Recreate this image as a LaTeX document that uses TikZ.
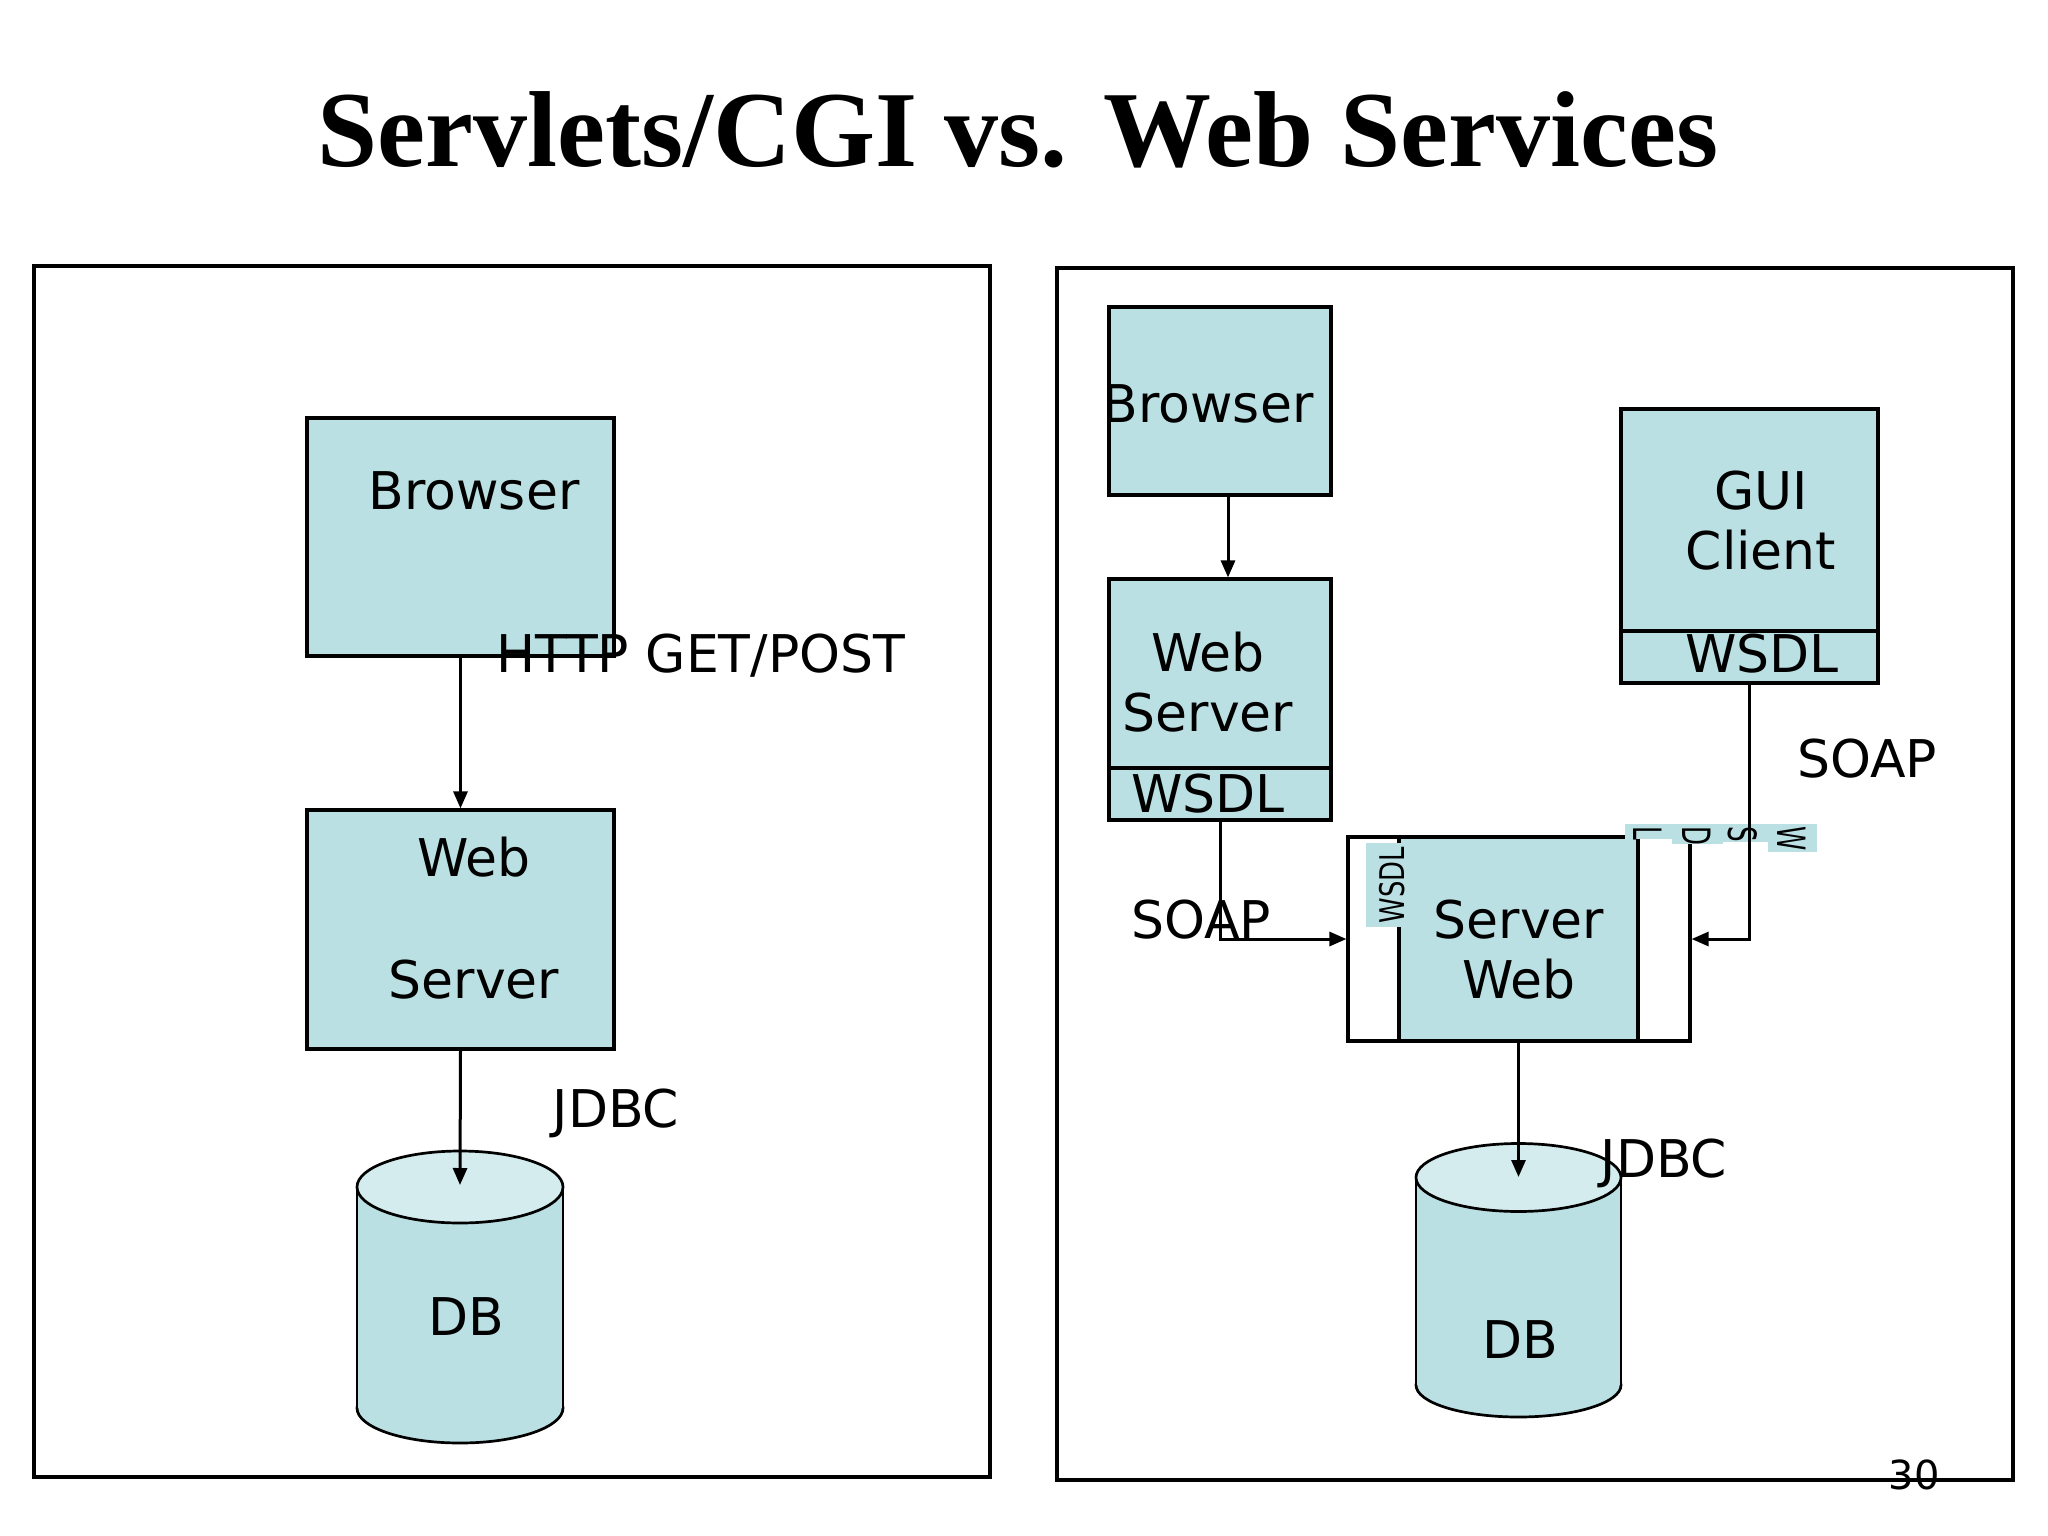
\documentclass[tikz,border=0pt]{standalone}
\usepackage{fontspec}
\newfontfamily\lab{DejaVu Sans}
\newfontfamily\ttl{Liberation Serif}
\usetikzlibrary{arrows.meta}
\definecolor{boxfill}{RGB}{187,224,227}
\definecolor{toplight}{RGB}{212,236,238}
\newcommand\dbcyl[6]{%
  \filldraw[fill=boxfill, line width=2.7pt] (#1,#3) ellipse [x radius=#4, y radius=#6];
  \fill[boxfill] ({#1-#4},#2) rectangle ({#1+#4},#3);
  \draw[line width=2.7pt] ({#1-#4},#2) -- ({#1-#4},#3) ({#1+#4},#2) -- ({#1+#4},#3);
  \filldraw[fill=toplight, line width=2.7pt] (#1,#2) ellipse [x radius=#4, y radius=#5];
}
\begin{document}
\begin{tikzpicture}[x=1pt,y=-1pt,
  box/.style={draw, line width=3.2pt, fill=boxfill, inner sep=0pt},
  panel/.style={draw, line width=3.2pt, inner sep=0pt},
  lbl/.style={font=\lab\fontsize{52}{60}\selectfont, inner sep=0pt, anchor=base},
  arr/.style={line width=3pt, -{Triangle[length=17pt,width=14pt]}},
  vlet/.style={font=\lab\fontsize{39}{39}\selectfont, inner sep=0pt, rotate=-90, anchor=base west}]
\useasboundingbox (0,0) rectangle (2048,1536);

% title
\node[font=\ttl\bfseries\fontsize{108}{120}\selectfont, anchor=base, inner sep=0pt] (title) at (1018,167) {Servlets/CGI vs. Web Services};

% panels
\node[panel, minimum width=956pt, minimum height=1211pt] (leftpanel) at (512,871.5) {};
\node[panel, minimum width=956pt, minimum height=1212pt] (rightpanel) at (1535,874) {};

% ---------- left side ----------
\node[box, minimum width=307pt, minimum height=238pt] (brL) at (460.5,537) {};
\node[lbl] (brLt) at (474,509) {Browser};
\node[box, minimum width=307pt, minimum height=239pt] (wsL) at (460.5,929.5) {};
\node[lbl] (wsLt1) at (474,876) {Web};
\node[lbl] (wsLt2) at (474,998) {Server};
\draw[arr] (brL.south) -- (wsL.north);
\node[lbl, anchor=base west] (http) at (496,672) {HTTP GET/POST};

\dbcyl{460}{1187}{1408}{103}{36}{35}
\coordinate (dbLtop) at (460,1185);
\node[lbl] (dbL) at (466,1335) {DB};
\draw[arr] (wsL.south) -- (dbLtop);
\node[lbl] (jdbcL) at (616,1127) {JDBC};

% ---------- right side ----------
\node[box, minimum width=222pt, minimum height=188pt] (brR) at (1220,401) {};
\node[lbl] (brRt) at (1208,422) {Browser};
\node[box, minimum width=222pt, minimum height=189pt] (wsR) at (1220,673.5) {};
\node[box, minimum width=222pt, minimum height=52pt] (wsRw) at (1220,794) {};
\node[lbl] (wsRt1) at (1208,671) {Web};
\node[lbl] (wsRt2) at (1208,731) {Server};
\node[lbl] (wsRt3) at (1208,812) {WSDL};
\draw[arr] ([xshift=8pt]brR.south) -- ([xshift=8pt]wsR.north);

\node[box, minimum width=257pt, minimum height=222pt] (gui) at (1749.5,520) {};
\node[box, minimum width=257pt, minimum height=52pt] (guiw) at (1749.5,657) {};
\node[lbl] (guit1) at (1761,509) {GUI};
\node[lbl] (guit2) at (1761,569) {Client};
\node[lbl] (guit3) at (1762,672) {WSDL};

% server web group
\node[panel, minimum width=342pt, minimum height=204pt] (swOut) at (1519,939) {};
\node[box, minimum width=239pt, minimum height=204pt] (swIn) at (1518.5,939) {};
\node[lbl] (swt1) at (1519,938) {Server};
\node[lbl] (swt2) at (1519,998) {Web};

% vertical WSDL label
\node[fill=boxfill, minimum width=84pt, minimum height=39pt, inner sep=0pt, rotate=90] (wsdlVbg) at (1385.5,885) {};
\node[font=\lab\fontsize{34}{34}\selectfont, rotate=90, anchor=base, inner sep=0pt] (wsdlV) at (1404,885) {\scalebox{0.76}[1]{WSDL}};

% top letter label
\fill[boxfill] (1625,824) rectangle (1672,839);
\fill[boxfill] (1672,824) rectangle (1723,844);
\fill[boxfill] (1723,824) rectangle (1768,842);
\fill[boxfill] (1768,824) rectangle (1817,852);
\node[vlet] (vL) at (1633,826) {\scalebox{0.63}[1]{L}};
\node[vlet] (vD) at (1682,826) {\scalebox{0.63}[1]{D}};
\node[vlet] (vS) at (1728,826) {\scalebox{0.63}[1]{S}};
\node[vlet] (vW) at (1777,826) {\scalebox{0.63}[1]{W}};

% connectors
\draw[arr] (wsRw.south) |- (swOut.west);
\draw[arr] (guiw.south) |- (swOut.east);
\node[lbl] (soapL) at (1201,938) {SOAP};
\node[lbl] (soapR) at (1867,777) {SOAP};

\dbcyl{1518.5}{1177.5}{1385}{102.5}{34}{32}
\coordinate (dbRtop) at (1518.5,1177);
\node[lbl] (dbR) at (1520,1358) {DB};
\draw[arr] (swIn.south) -- (dbRtop);
\node[lbl] (jdbcR) at (1664,1177) {JDBC};

% page number
\node[font=\lab\fontsize{40}{40}\selectfont, anchor=base, inner sep=0pt] (pg) at (1914,1489) {30};
\end{tikzpicture}
\end{document}
